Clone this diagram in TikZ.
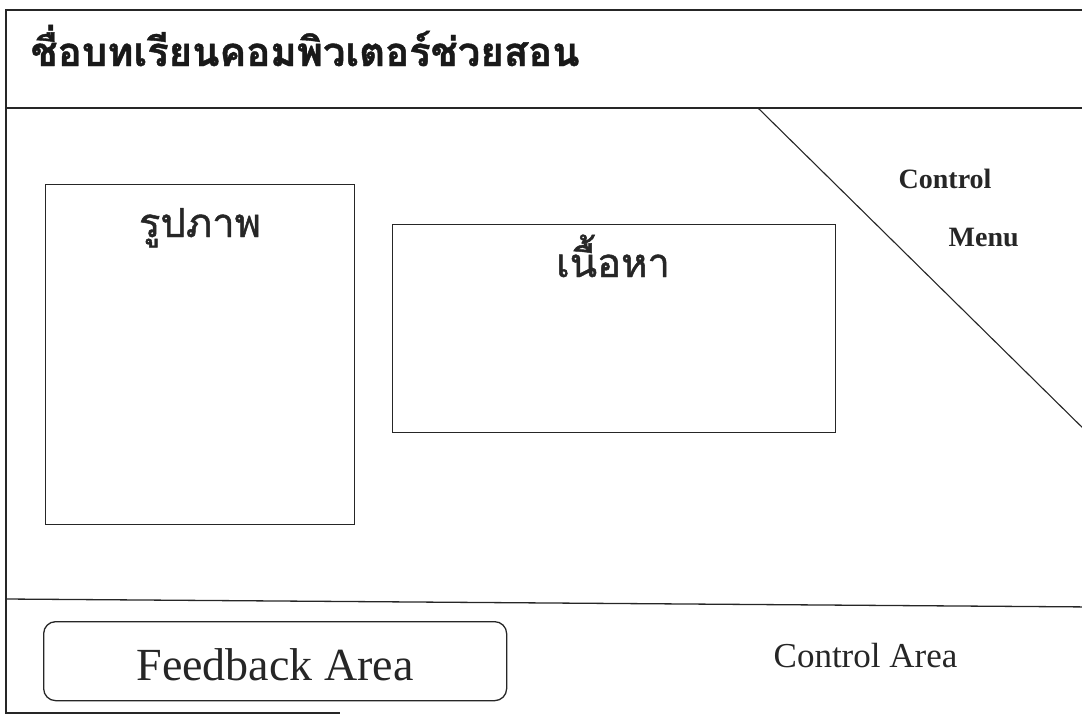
\documentclass[tikz,border=0pt]{standalone}
\usepackage{fontspec}
\setmainfont{Liberation Serif}
\newfontfamily\thaifont[Script=Thai]{Loma}
\newfontfamily\thaimed[Script=Thai,FakeBold=1.2]{Loma}
\newfontfamily\thaiheavy[Script=Thai,UprightFont=* Bold,FakeBold=1.0]{Loma}
\begin{document}
\begin{tikzpicture}[x=1pt,y=-1pt,line width=1.3pt,
  frameline/.style={draw=black!85},
  areabox/.style={draw=black!85,rectangle,inner sep=0pt,anchor=north west},
  thailabel/.style={anchor=base,inner sep=0pt,font=\thaimed\fontsize{40}{48}\selectfont,text=black!85},
  menulabel/.style={anchor=base west,inner sep=0pt,font=\bfseries\fontsize{28}{32}\selectfont,text=black!85},
  arealabel/.style={anchor=base west,inner sep=0pt,text=black!85}]
\useasboundingbox (0,0) rectangle (1082,716);
\clip (0,0) rectangle (1082,716);
% outer frame and separators
\coordinate (tl) at (6,10);
\coordinate (tr) at (1095,10);
\coordinate (bl) at (6,713);
\coordinate (br) at (340,713);
\coordinate (h1l) at (6,108);
\coordinate (h1r) at (1095,108);
\coordinate (h2l) at (6,599);
\coordinate (h2r) at (1095,607);
\coordinate (d1) at (758,108);
\coordinate (d2) at (1095,440);
\draw[frameline] (tr) -- (tl) -- (bl) -- (br);
\draw[frameline] (h1l) -- (h1r);
\draw[frameline] (h2l) -- (h2r);
\draw[frameline,line width=1.1pt] (d1) -- (d2);
% title
\node[anchor=base west,inner sep=0pt,text=black!90,font=\thaiheavy\fontsize{40}{48}\selectfont] (title) at (30,66) {ชื่อบทเรียนคอมพิวเตอร์ช่วยสอน};
% picture box
\node[areabox,minimum width=309pt,minimum height=340pt] (pic) at (45,184) {};
\node[thailabel] (pictxt) at (200,237) {รูปภาพ};
% content box
\node[areabox,minimum width=443pt,minimum height=208pt] (content) at (392,224) {};
\node[thailabel] (contxt) at (613,277) {เนื้อหา};
% control menu
\node[menulabel] (ctl) at (898,188) {Control};
\node[menulabel] (menu) at (948,246) {Menu};
% feedback
\node[areabox,rounded corners=12pt,minimum width=463pt,minimum height=79pt] (fb) at (43,621) {};
\node[arealabel,anchor=base,font=\fontsize{46}{52}\selectfont] (fbtxt) at (275,680) {Feedback Area};
\node[arealabel,font=\fontsize{35}{40}\selectfont] (catxt) at (773,667) {Control Area};
\end{tikzpicture}
\end{document}
